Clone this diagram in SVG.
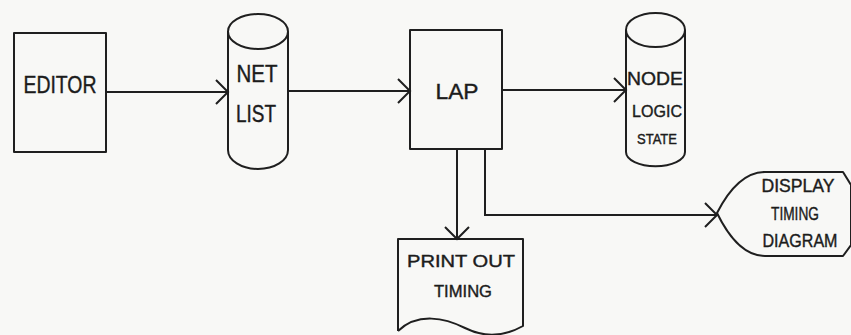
<svg xmlns="http://www.w3.org/2000/svg" width="851" height="335" viewBox="0 0 851 335">
  <style>
    .shape { fill: none; stroke: #1f1f1f; stroke-width: 2; stroke-linejoin: round; }
    .conn { fill: none; stroke: #1f1f1f; stroke-width: 2; }
    .lbl { font-family: "Liberation Sans", Arial, sans-serif; fill: #1c1c1c; stroke: #1c1c1c; stroke-width: 0.4; text-anchor: middle; }
  </style>
  <defs>
    <marker id="arr" markerUnits="userSpaceOnUse" markerWidth="30" markerHeight="30" viewBox="-15 -15 30 30" refX="0" refY="0" orient="auto">
      <path d="M-12,-12 L0,0 L-12,12" fill="none" stroke="#1f1f1f" stroke-width="2"/>
    </marker>
  </defs>
  <rect x="0" y="0" width="851" height="335" fill="#f8f8f6"/>

  <g id="editor">
    <rect class="shape" x="14" y="33" width="92" height="119"/>
    <text class="lbl" x="60" y="93" font-size="23" textLength="73" lengthAdjust="spacingAndGlyphs">EDITOR</text>
  </g>

  <g id="netlist">
    <ellipse class="shape" cx="258" cy="31.5" rx="30" ry="17.5"/>
    <path class="shape" d="M228,31.5 V150 A30,19 0 0 0 288,150 V31.5"/>
    <text class="lbl" x="257" y="82" font-size="23" textLength="41" lengthAdjust="spacingAndGlyphs">NET</text>
    <text class="lbl" x="256" y="122" font-size="23" textLength="40" lengthAdjust="spacingAndGlyphs">LIST</text>
  </g>

  <g id="lap">
    <rect class="shape" x="410" y="30" width="92" height="119"/>
    <text class="lbl" x="457" y="99" font-size="22" textLength="43" lengthAdjust="spacingAndGlyphs">LAP</text>
  </g>

  <g id="nodelogic">
    <ellipse class="shape" cx="655.5" cy="30" rx="29.5" ry="17"/>
    <path class="shape" d="M626,30 V152 A29,14 0 0 0 685,152 V30"/>
    <text class="lbl" x="655" y="85" font-size="18" textLength="56" lengthAdjust="spacingAndGlyphs">NODE</text>
    <text class="lbl" x="657" y="117" font-size="17" textLength="50" lengthAdjust="spacingAndGlyphs">LOGIC</text>
    <text class="lbl" x="657" y="144" font-size="14" textLength="40" lengthAdjust="spacingAndGlyphs">STATE</text>
  </g>

  <g id="printout">
    <path class="shape" d="M398,331 V239 H523 V326 C505,336 485,338 465,328 C445,318 418,312 398,331"/>
    <text class="lbl" x="461" y="267" font-size="17" textLength="108" lengthAdjust="spacingAndGlyphs">PRINT OUT</text>
    <text class="lbl" x="463" y="297" font-size="17" textLength="58" lengthAdjust="spacingAndGlyphs">TIMING</text>
  </g>

  <g id="display">
    <path class="shape" d="M717,213 Q738,172 765,172 H843 L851,185 V245 L843,256 H765 Q738,256 717,213 Z"/>
    <text class="lbl" x="798" y="192" font-size="18" textLength="73" lengthAdjust="spacingAndGlyphs">DISPLAY</text>
    <text class="lbl" x="795" y="220" font-size="18" textLength="48" lengthAdjust="spacingAndGlyphs">TIMING</text>
    <text class="lbl" x="800" y="247" font-size="18" textLength="75" lengthAdjust="spacingAndGlyphs">DIAGRAM</text>
  </g>

  <g id="connectors">
    <path class="conn" d="M106,92 H228" marker-end="url(#arr)"/>
    <path class="conn" d="M288,91 H410" marker-end="url(#arr)"/>
    <path class="conn" d="M502,90 H626" marker-end="url(#arr)"/>
    <path class="conn" d="M457,149 V239" marker-end="url(#arr)"/>
    <path class="conn" d="M485,149 V215 H717" marker-end="url(#arr)"/>
  </g>
</svg>
